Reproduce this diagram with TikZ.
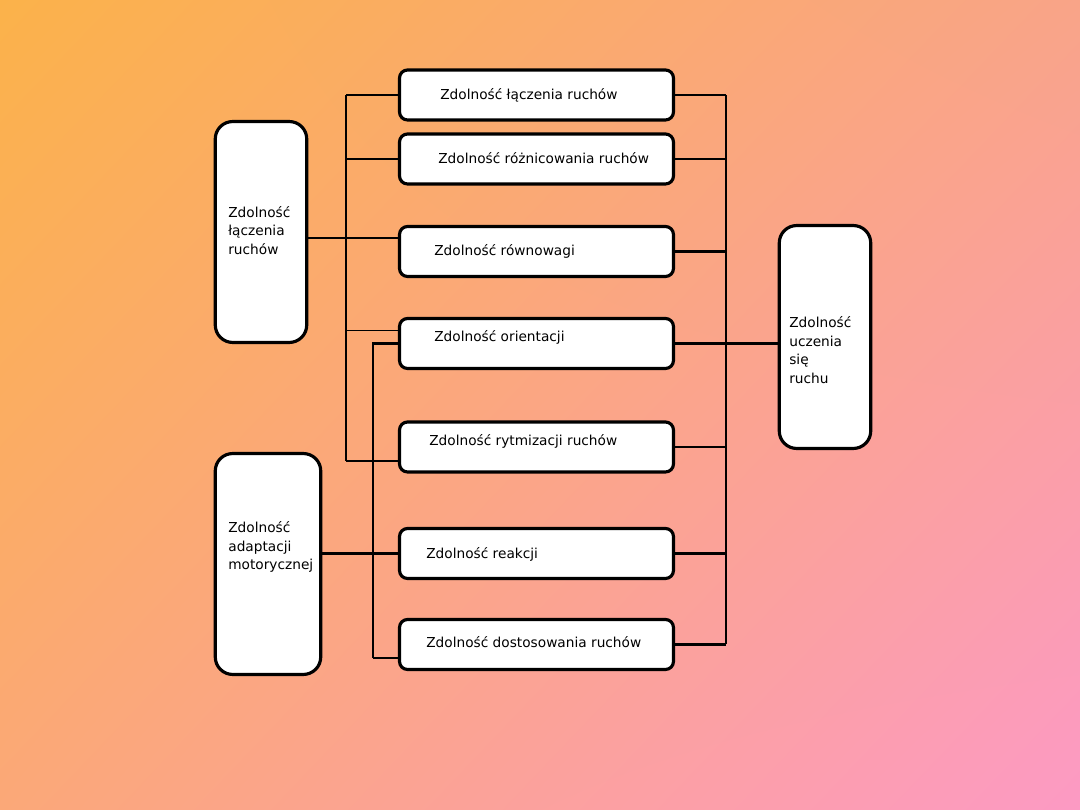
\documentclass[tikz,border=0pt]{standalone}
\usepackage{fontspec}
\setmainfont{DejaVu Sans}
\usepackage{xcolor}
\usetikzlibrary{positioning, calc, shadings}
\definecolor{bgTL}{HTML}{FBB24A}
\definecolor{bgTR}{HTML}{F9A488}
\definecolor{bgBL}{HTML}{FBA878}
\definecolor{bgBR}{HTML}{FC9AC4}
\tikzset{
  ability/.style = {rectangle, rounded corners=1.6mm, draw, line width=1.8pt,
                    fill=white, minimum width=5.48cm, minimum height=1.0cm},
  group/.style   = {rectangle, rounded corners=3.5mm, draw, line width=1.8pt,
                    fill=white, minimum width=1.83cm, minimum height=4.42cm},
  caption/.style = {inner sep=0pt, align=left, anchor=west,
                    font=\fontsize{7.8}{10.5}\selectfont},
  link/.style    = {line width=0.65pt},
  rail/.style    = {line width=0.95pt},
  boldlink/.style= {line width=1.4pt},
}

\begin{document}
\begin{tikzpicture}[x=0.02cm, y=-0.02cm]
  \shade[upper left=bgTL, upper right=bgTR, lower left=bgBL, lower right=bgBR]
    (0,0) rectangle (1080,810);
  \useasboundingbox (0,0) rectangle (1080,810);

  % rails
  \coordinate (busL) at (346,0);
  \coordinate (busM) at (373,0);
  \coordinate (busR) at (726,0);

  % middle column
  \node[ability] (r1) at (536.5,95)  {};
  \node[ability] (r2) at (536.5,159) {};
  \node[ability] (r3) at (536.5,251.5) {};
  \node[ability] (r4) at (536.5,343.5) {};
  \node[ability] (r5) at (536.5,447) {};
  \node[ability] (r6) at (536.5,553.5) {};
  \node[ability] (r7) at (536.5,644.5) {};

  \node[caption] (t1) at (440,95)  {Zdolność łączenia ruchów};
  \node[caption] (t2) at (438,158) {Zdolność różnicowania ruchów};
  \node[caption] (t3) at (434,251) {Zdolność równowagi};
  \node[caption] (t4) at (434,337) {Zdolność orientacji};
  \node[caption] (t5) at (429,441) {Zdolność rytmizacji ruchów};
  \node[caption] (t6) at (426,554) {Zdolność reakcji};
  \node[caption] (t7) at (426,642) {Zdolność dostosowania ruchów};

  % side groups
  \node[group] (join) at (261,232) {};
  \node[caption] (joinTxt) at (228,230.5) {Zdolność\\łączenia\\ruchów};
  \node[group, minimum width=2.11cm] (adapt) at (268,564) {};
  \node[caption] (adaptTxt) at (228,547) {Zdolność\\adaptacji\\motorycznej};
  \node[group, minimum height=4.46cm] (learn) at (825,337) {};
  \node[caption] (learnTxt) at (789,350) {Zdolność\\uczenia\\się\\ruchu};

  % left rail
  \draw[rail] (r1.west -| busL) -- ($(r5.west -| busL)+(0,14)$);
  \draw[boldlink] ($(r5.west -| busL)+(0,14)$) -- ($(r5.west)+(0,14)$);
  \foreach \r/\dy in {r1/0, r2/0, r4/-13}
    \draw[link] ($(\r.west)+(0,\dy)$) -- ($(\r.west -| busL)+(0,\dy)$);
  \draw[link] ($(join.east)+(0,6)$) -- ($(join.east -| r3.west)+(0,6)$);

  % second rail
  \draw[boldlink] (r4.west) -- (r4.west -| busM) -- ($(r7.west -| busM)+(0,13.5)$);
  \draw[link] ($(r7.west -| busM)+(0,13.5)$) -- ($(r7.west)+(0,13.5)$);
  \draw[boldlink] (r6.west -| adapt.east) -- (r6.west);

  % right rail
  \draw[rail] (r1.east -| busR) -- (r7.east -| busR);
  \foreach \r in {r1, r2, r5}
    \draw[link] (\r.east) -- (\r.east -| busR);
  \foreach \r in {r3, r6, r7}
    \draw[boldlink] (\r.east) -- (\r.east -| busR);
  \draw[boldlink] (r4.east) -- (r4.east -| learn.west);
\end{tikzpicture}
\end{document}
